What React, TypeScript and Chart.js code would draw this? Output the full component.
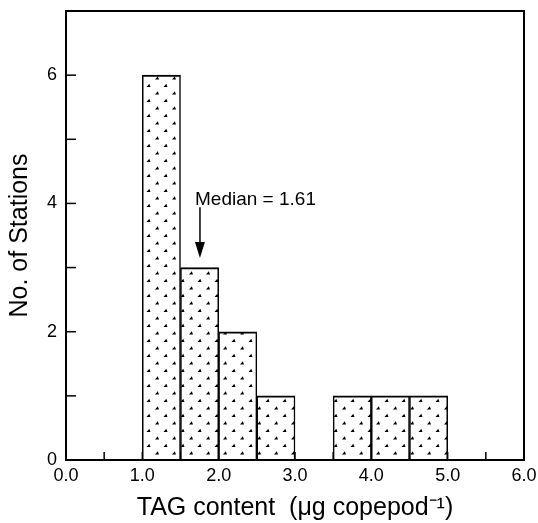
import React, { useEffect, useRef } from "react";
import { Chart, registerables } from "chart.js";

Chart.register(...registerables);

// ---- data ----
const binCenters = [1.25, 1.75, 2.25, 2.75, 3.75, 4.25, 4.75];
const stationCounts = [6, 3, 2, 1, 1, 1, 1];
const xTickLabels = ["0.0", "1.0", "2.0", "3.0", "4.0", "5.0", "6.0"];
const yTickLabels = ["0", "2", "4", "6"];
const medianLabel = "Median = 1.61";
// annotation anchors in data units
const medianArrowX = 1.755;
const medianArrowTopY = 3.94;
const medianArrowTipY = 3.15;
const medianLabelX = 1.69;
const medianLabelY = 4.05;

const FONT = "'Liberation Sans', Arial, Helvetica, sans-serif";

function makePattern(): CanvasPattern | string {
  const c = document.createElement("canvas");
  c.width = 17;
  c.height = 15;
  const g = c.getContext("2d");
  if (!g) return "#fff";
  g.fillStyle = "#fff";
  g.fillRect(0, 0, 17, 15);
  g.fillStyle = "#000";
  const tri = (x: number, y: number) => {
    g.beginPath();
    g.moveTo(x - 2, y + 1.4);
    g.lineTo(x + 2, y + 1.4);
    g.lineTo(x + 0.8, y - 1.8);
    g.closePath();
    g.fill();
  };
  tri(4, 3);
  tri(12.5, 10.5);
  return g.createPattern(c, "repeat") || "#fff";
}

const zeroPadding = (s: any) => {
  s.paddingTop = 0;
  s.paddingBottom = 0;
  s.paddingLeft = 0;
  s.paddingRight = 0;
};

const decorPlugin = {
  id: "decor",
  beforeDatasetsDraw(chart: any) {
    const { ctx, chartArea, scales } = chart;
    const xs = scales.x;
    const ys = scales.y;
    ctx.save();
    ctx.strokeStyle = "#000";
    ctx.lineWidth = 1.5;
    xs.ticks.forEach((t: any) => {
      if (t.value <= xs.min || t.value >= xs.max) return;
      const px = xs.getPixelForValue(t.value);
      ctx.beginPath();
      ctx.moveTo(px, chartArea.bottom);
      ctx.lineTo(px, chartArea.bottom - 8);
      ctx.stroke();
    });
    ys.ticks.forEach((t: any) => {
      if (t.value <= ys.min || t.value >= ys.max) return;
      const py = ys.getPixelForValue(t.value);
      ctx.beginPath();
      ctx.moveTo(chartArea.left, py);
      ctx.lineTo(chartArea.left + 10, py);
      ctx.stroke();
    });
    ctx.restore();
  },
  afterDatasetsDraw(chart: any) {
    const { ctx, chartArea, scales } = chart;
    const xs = scales.x;
    const ys = scales.y;
    ctx.save();
    // frame
    ctx.strokeStyle = "#000";
    ctx.lineWidth = 2;
    ctx.strokeRect(
      chartArea.left,
      chartArea.top,
      chartArea.right - chartArea.left,
      chartArea.bottom - chartArea.top
    );
    // median label
    ctx.fillStyle = "#000";
    ctx.font = `19px ${FONT}`;
    ctx.textAlign = "left";
    ctx.textBaseline = "middle";
    ctx.fillText(
      medianLabel,
      xs.getPixelForValue(medianLabelX),
      ys.getPixelForValue(medianLabelY)
    );
    // arrow
    const ax = xs.getPixelForValue(medianArrowX);
    const ay0 = ys.getPixelForValue(medianArrowTopY);
    const ay1 = ys.getPixelForValue(medianArrowTipY);
    ctx.lineWidth = 1.5;
    ctx.beginPath();
    ctx.moveTo(ax, ay0);
    ctx.lineTo(ax, ay1 - 12);
    ctx.stroke();
    ctx.beginPath();
    ctx.moveTo(ax - 5, ay1 - 16);
    ctx.lineTo(ax + 5, ay1 - 16);
    ctx.lineTo(ax, ay1);
    ctx.closePath();
    ctx.fill();
    ctx.restore();
  },
};

export default function App() {
  const ref = useRef<HTMLCanvasElement | null>(null);
  useEffect(() => {
    if (!ref.current) return;
    const pattern = makePattern();
    const chart = new Chart(ref.current, {
      type: "bar",
      data: {
        datasets: [
          {
            data: binCenters.map((x, i) => ({ x, y: stationCounts[i] })),
            backgroundColor: pattern as any,
            borderColor: "#000",
            borderWidth: { top: 2, left: 1.5, right: 1.5, bottom: 0 } as any,
            borderSkipped: false,
            barPercentage: 1,
            categoryPercentage: 1,
          },
        ],
      },
      options: {
        animation: false,
        responsive: false,
        devicePixelRatio: 1,
        layout: { padding: { top: 11, right: 14, left: 0, bottom: 0 } },
        plugins: {
          legend: { display: false },
          tooltip: { enabled: false },
        },
        scales: {
          x: {
            type: "linear",
            min: 0,
            max: 6,
            offset: false,
            grid: { display: false, drawTicks: false, offset: false },
            border: { display: false },
            ticks: {
              stepSize: 0.5,
              autoSkip: false,
              maxRotation: 0,
              padding: 5,
              color: "#000",
              font: { family: FONT, size: 18 },
              callback: (v: any) => {
                const s = Number(v).toFixed(1);
                return xTickLabels.includes(s) ? s : "";
              },
            },
            title: {
              display: true,
              text: "TAG content  (μg copepod⁻¹)",
              color: "#000",
              font: { family: FONT, size: 25 },
              padding: { top: 0, bottom: 0 },
            },
            afterFit: (s: any) => {
              s.height = 63;
              zeroPadding(s);
            },
          },
          y: {
            type: "linear",
            min: 0,
            max: 7,
            grid: { display: false, drawTicks: false },
            border: { display: false },
            ticks: {
              stepSize: 1,
              autoSkip: false,
              padding: 9,
              color: "#000",
              font: { family: FONT, size: 18 },
              callback: (v: any) => {
                const s = String(Math.round(Number(v)));
                return yTickLabels.includes(s) ? s : "";
              },
            },
            title: {
              display: true,
              text: "No. of Stations",
              color: "#000",
              font: { family: FONT, size: 25 },
              padding: { top: 5, bottom: 0 },
            },
            afterFit: (s: any) => {
              s.width = 66;
              zeroPadding(s);
            },
          },
        },
      },
      plugins: [decorPlugin],
    });
    return () => chart.destroy();
  }, []);
  return (
    <div style={{ position: "absolute", left: 0, top: 0, width: 538, height: 523, background: "#fff" }}>
      <canvas ref={ref} width={538} height={523} />
    </div>
  );
}
